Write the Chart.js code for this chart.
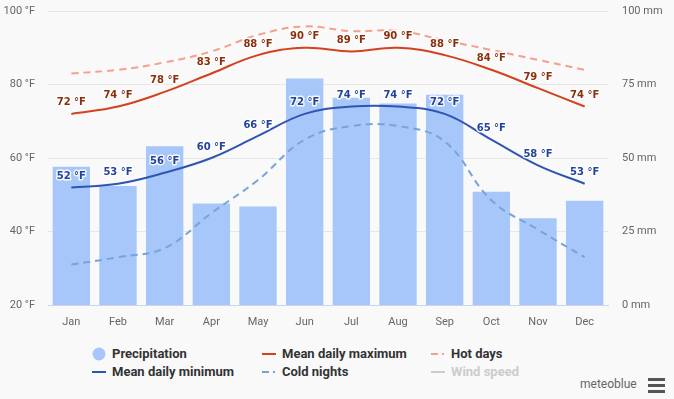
<!DOCTYPE html>
<html>
<head>
<meta charset="utf-8">
<script src="https://cdn.jsdelivr.net/npm/chart.js@4"></script>
<style>
    html, body { margin: 0; padding: 0; background: #f9f9f9; }
    #wrap { position: relative; width: 674px; height: 399px; overflow: hidden; font-family: "Roboto", sans-serif; }
    #chart { position: absolute; left: 0; top: 0; }
    .item { position: absolute; height: 16px; line-height: 16px; font-size: 13px; font-weight: bold; color: #333; white-space: nowrap; }
    .item svg { position: absolute; left: 0; top: 0; }
    .item span { position: absolute; left: 20px; top: 0; }
    #brand { position: absolute; left: 580px; top: 377px; font-size: 12px; color: #666; }
    #burger { position: absolute; left: 648px; top: 378px; width: 17px; }
    #burger div { height: 3px; background: #555; margin-bottom: 3px; }
</style>
</head>
<body>
<div id="wrap">
    <canvas id="chart" width="674" height="340"></canvas>
    <div id="legend"></div>
    <div id="brand">meteoblue</div>
    <div id="burger"><div></div><div></div><div></div></div>
</div>
<script>
var months = ["Jan", "Feb", "Mar", "Apr", "May", "Jun", "Jul", "Aug", "Sep", "Oct", "Nov", "Dec"];
var precipitation = [47, 40.5, 54, 34.5, 33.5, 77, 70.5, 68.5, 71.5, 38.5, 29.5, 35.5];
var meanMax = [72, 74, 78, 83, 88, 90, 89, 90, 88, 84, 79, 74];
var meanMin = [52, 53, 56, 60, 66, 72, 74, 74, 72, 65, 58, 53];
var hotDays = [83, 84, 86, 89, 93.5, 95.8, 94.5, 94.6, 92, 89.4, 86.7, 84];
var coldNights = [31, 33, 35.5, 45, 54, 65, 68.7, 68.7, 64.5, 48.5, 40.5, 33];
var tempTicks = [20, 40, 60, 80, 100];
var rainTicks = [0, 25, 50, 75, 100];

// labels above max/min points, with white halo
var pointLabels = {
    id: "pointLabels",
    afterDatasetsDraw: function (chart) {
        var ctx = chart.ctx;
        chart.data.datasets.forEach(function (ds, i) {
            if (!ds.labelColor) return;
            var meta = chart.getDatasetMeta(i);
            ctx.save();
            ctx.font = "bold 10px 'DejaVu Sans'";
            ctx.textAlign = "center";
            ctx.textBaseline = "middle";
            ctx.lineJoin = "round";
            meta.data.forEach(function (pt, j) {
                var txt = ds.data[j] + " °F";
                ctx.lineWidth = 3;
                ctx.strokeStyle = "rgba(255,255,255,0.85)";
                ctx.strokeText(txt, pt.x, pt.y - 11);
                ctx.fillStyle = ds.labelColor;
                ctx.fillText(txt, pt.x, pt.y - 11);
            });
            ctx.restore();
        });
    }
};

function fixY(w) {
    return function (s) {
        s.width = w;
        s.paddingTop = 0;
        s.paddingBottom = 0;
    };
}

var ctx = document.getElementById("chart").getContext("2d");
var chart = new Chart(ctx, {
    type: "bar",
    data: {
        labels: months,
        datasets: [
            {
                label: "Precipitation",
                data: precipitation,
                yAxisID: "y1",
                backgroundColor: "#a7c7fa",
                barPercentage: 0.8,
                categoryPercentage: 1.0,
                order: 10
            },
            {
                type: "line",
                label: "Mean daily maximum",
                data: meanMax,
                yAxisID: "y",
                borderColor: "#d3411d",
                borderWidth: 2,
                tension: 0.4,
                pointRadius: 0,
                labelColor: "#8a2e0c",
                order: 1
            },
            {
                type: "line",
                label: "Hot days",
                data: hotDays,
                yAxisID: "y",
                borderColor: "#f4a08d",
                borderWidth: 2,
                borderDash: [7, 5],
                tension: 0.4,
                pointRadius: 0,
                order: 3
            },
            {
                type: "line",
                label: "Mean daily minimum",
                data: meanMin,
                yAxisID: "y",
                borderColor: "#2f55b3",
                borderWidth: 2,
                tension: 0.4,
                pointRadius: 0,
                labelColor: "#24439a",
                order: 2
            },
            {
                type: "line",
                label: "Cold nights",
                data: coldNights,
                yAxisID: "y",
                borderColor: "#77a4d8",
                borderWidth: 2,
                borderDash: [7, 5],
                tension: 0.4,
                pointRadius: 0,
                order: 4
            },
            {
                type: "line",
                label: "Wind speed",
                data: [],
                yAxisID: "y",
                borderColor: "#cccccc",
                borderWidth: 2,
                hidden: true
            }
        ]
    },
    options: {
        responsive: false,
        animation: false,
        layout: { padding: { top: 11, left: 0, right: 0, bottom: 0 } },
        plugins: {
            legend: { display: false },
            tooltip: { enabled: false }
        },
        scales: {
            x: {
                grid: { display: false, drawTicks: false },
                border: { color: "#ccd6eb" },
                ticks: { color: "#666", font: { family: "Roboto", size: 11 }, padding: 11 },
                afterFit: function (s) { s.height = 35; }
            },
            y: {
                position: "left",
                min: 20,
                max: 100,
                afterBuildTicks: function (s) { s.ticks = tempTicks.map(function (v) { return { value: v }; }); },
                grid: { color: "#e6e6e6", drawTicks: false },
                border: { display: false },
                ticks: {
                    color: "#666",
                    font: { family: "Roboto", size: 11 },
                    padding: 13,
                    callback: function (v) { return v + " °F"; }
                },
                afterFit: fixY(48)
            },
            y1: {
                position: "right",
                min: 0,
                max: 100,
                afterBuildTicks: function (s) { s.ticks = rainTicks.map(function (v) { return { value: v }; }); },
                grid: { display: false, drawTicks: false },
                border: { display: false },
                ticks: {
                    color: "#666",
                    font: { family: "Roboto", size: 11 },
                    padding: 14,
                    callback: function (v) { return v + " mm"; }
                },
                afterFit: fixY(66)
            }
        }
    },
    plugins: [pointLabels]
});

// html legend, three columns
var legend = document.getElementById("legend");
var colX = [92, 262, 431];
var rowY = [346, 364];
chart.data.datasets.forEach(function (ds, i) {
    var col = i % 3, row = Math.floor(i / 3);
    var el = document.createElement("div");
    el.className = "item";
    el.style.left = colX[col] + "px";
    el.style.top = rowY[row] + "px";
    var icon;
    if (ds.type !== "line") {
        icon = '<svg width="16" height="16"><circle cx="7" cy="8" r="6.5" fill="' + ds.backgroundColor + '"/></svg>';
    } else if (ds.borderDash) {
        icon = '<svg width="16" height="16"><line x1="0" y1="8" x2="7" y2="8" stroke="' + ds.borderColor + '" stroke-width="2"/>' +
            '<line x1="11" y1="8" x2="13" y2="8" stroke="' + ds.borderColor + '" stroke-width="2"/></svg>';
    } else {
        icon = '<svg width="16" height="16"><line x1="0" y1="8" x2="14" y2="8" stroke="' + ds.borderColor + '" stroke-width="2"/></svg>';
    }
    el.innerHTML = icon + '<span>' + ds.label + '</span>';
    if (ds.hidden) el.style.color = "#cccccc";
    legend.appendChild(el);
});
</script>
</body>
</html>
